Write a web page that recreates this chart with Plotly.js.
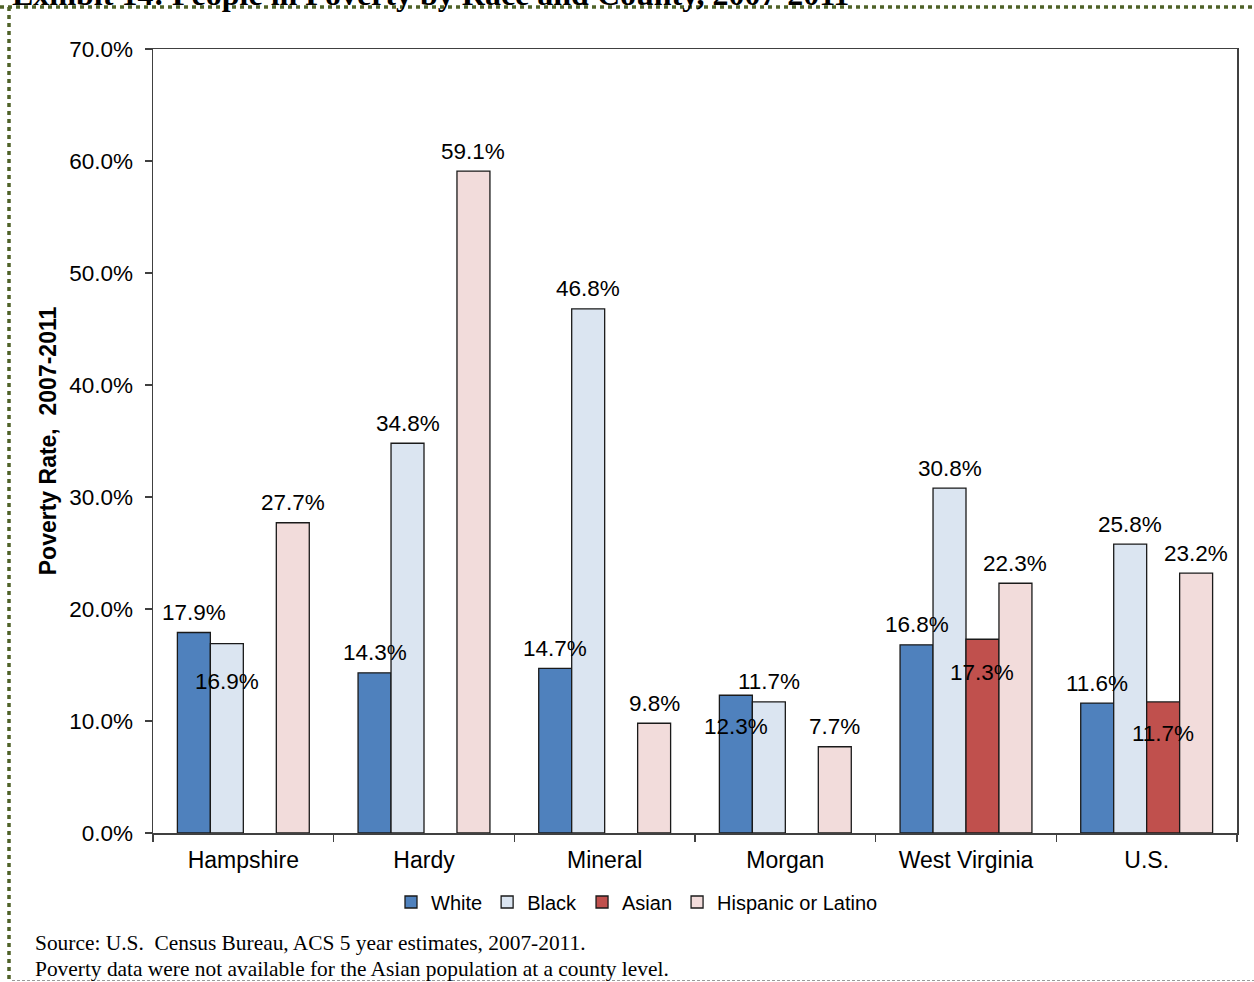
<!DOCTYPE html>
<html>
<head>
<meta charset="utf-8">
<script src="https://cdn.plot.ly/plotly-3.0.1.min.js"></script>
<style>
  html, body { margin: 0; padding: 0; background: #ffffff; }
  #chart { width: 1254px; height: 982px; }
</style>
</head>
<body>
<div id="chart"></div>
<script>
// Poverty rate (%) by race for each area, ACS 5-year estimates 2007-2011
const counties = ['Hampshire', 'Hardy', 'Mineral', 'Morgan', 'West Virginia', 'U.S.'];
const white    = [17.9, 14.3, 14.7, 12.3, 16.8, 11.6];
const black    = [16.9, 34.8, 46.8, 11.7, 30.8, 25.8];
const asian    = [null, null, null, null, 17.3, 11.7];
const hispanic = [27.7, 59.1, 9.8, 7.7, 22.3, 23.2];
const seriesNames = ['White', 'Black', 'Asian', 'Hispanic or Latino'];
const yTicks = [0, 10, 20, 30, 40, 50, 60, 70];

const seriesValues = [white, black, asian, hispanic];
const seriesColors = ['#4F81BD', '#DBE5F1', '#C0504D', '#F2DCDB'];

// page geometry (px)
const W = 1254, H = 982;
const M = { l: 153, r: 17, t: 49, b: 149 };
const plotW = W - M.l - M.r;
const plotH = H - M.t - M.b;
const BARGAP = 0.27;
const px2paperX = px => (px - M.l) / plotW;
const px2paperY = py => (H - M.b - py) / plotH;

const SANS = 'Liberation Sans, Arial, sans-serif';
const SERIF = 'Liberation Serif, Times New Roman, serif';

const traces = seriesNames.map((name, i) => ({
  type: 'bar',
  name: name,
  x: counties,
  y: seriesValues[i],
  marker: { color: seriesColors[i], line: { color: '#1a1a1a', width: 1.3 } },
  hoverinfo: 'x+y+name'
}));

// value labels: centred on each bar, a few drawn inside the bar top
const below = { 'Black|Hampshire': 38, 'White|Morgan': 31, 'Asian|West Virginia': 33, 'Asian|U.S.': 32 };
const slotPx = plotW / counties.length * (1 - BARGAP) / seriesNames.length;
const annotations = [];
seriesValues.forEach((vals, i) => {
  vals.forEach((v, j) => {
    if (v === null) return;
    const key = seriesNames[i] + '|' + counties[j];
    annotations.push({
      xref: 'x', yref: 'y', x: counties[j], y: v,
      xshift: (i - 1.5) * slotPx,
      yshift: below[key] ? -below[key] : 20,
      text: v.toFixed(1) + '%',
      showarrow: false, xanchor: 'center', yanchor: 'middle',
      font: { family: SANS, size: 22.5, color: '#000000' }
    });
  });
});

// exhibit heading (runs off the top edge) and source notes
annotations.push({
  xref: 'paper', yref: 'paper', x: px2paperX(10), y: px2paperY(14),
  xanchor: 'left', yanchor: 'bottom', showarrow: false,
  text: '<b>Exhibit 14: People in Poverty by Race and County, 2007-2011</b>',
  font: { family: SERIF, size: 32, color: '#000000' }
});
annotations.push({
  xref: 'paper', yref: 'paper', x: px2paperX(33), y: px2paperY(943),
  xanchor: 'left', yanchor: 'middle', showarrow: false,
  text: 'Source: U.S.  Census Bureau, ACS 5 year estimates, 2007-2011.',
  font: { family: SERIF, size: 21.4, color: '#000000' }
});
annotations.push({
  xref: 'paper', yref: 'paper', x: px2paperX(33), y: px2paperY(969),
  xanchor: 'left', yanchor: 'middle', showarrow: false,
  text: 'Poverty data were not available for the Asian population at a county level.',
  font: { family: SERIF, size: 21.4, color: '#000000' }
});

// frame around the exhibit
const olive = '#4F6228';
const shapes = [
  { type: 'line', xref: 'paper', yref: 'paper', layer: 'above',
    x0: px2paperX(0), x1: px2paperX(W), y0: px2paperY(7), y1: px2paperY(7),
    line: { color: olive, width: 3.5, dash: '4px,4px' } },
  { type: 'line', xref: 'paper', yref: 'paper', layer: 'above',
    x0: px2paperX(9), x1: px2paperX(9), y0: px2paperY(7), y1: px2paperY(979),
    line: { color: olive, width: 3.5, dash: '4px,4px' } },
  { type: 'line', xref: 'paper', yref: 'paper', layer: 'above',
    x0: px2paperX(12), x1: px2paperX(W), y0: px2paperY(980.5), y1: px2paperY(980.5),
    line: { color: '#9a9a9a', width: 1, dash: '3px,2px' } }
];

const layout = {
  width: W, height: H,
  margin: M,
  paper_bgcolor: '#ffffff',
  plot_bgcolor: '#ffffff',
  barmode: 'group',
  bargap: BARGAP,
  bargroupgap: 0,
  showlegend: true,
  legend: {
    orientation: 'h',
    x: px2paperX(637), xanchor: 'center',
    y: px2paperY(902), yanchor: 'middle',
    font: { family: SANS, size: 20, color: '#000000' },
    itemwidth: 30,
    traceorder: 'normal'
  },
  xaxis: {
    type: 'category',
    tickson: 'boundaries',
    ticks: 'outside', ticklen: 7, tickwidth: 1.5, tickcolor: '#404040',
    showline: true, linecolor: '#404040', linewidth: 1.5, mirror: true,
    showgrid: false, zeroline: false,
    tickfont: { family: SANS, size: 23, color: '#000000' },
    ticklabelstandoff: 6
  },
  yaxis: {
    range: [0, 70],
    tickvals: yTicks,
    ticktext: yTicks.map(t => t.toFixed(1) + '%'),
    ticks: 'outside', ticklen: 7, tickwidth: 1.5, tickcolor: '#404040',
    showline: true, linecolor: '#404040', linewidth: 1.5, mirror: true,
    showgrid: false, zeroline: false,
    tickfont: { family: SANS, size: 22.5, color: '#000000' },
    ticklabelstandoff: 7,
    title: {
      text: '<b>Poverty Rate,  2007-2011</b>',
      font: { family: SANS, size: 23, color: '#000000' },
      standoff: 6
    }
  },
  annotations: annotations,
  shapes: shapes,
  font: { family: SANS }
};

Plotly.newPlot('chart', traces, layout, { displayModeBar: false, staticPlot: true });
</script>
</body>
</html>
